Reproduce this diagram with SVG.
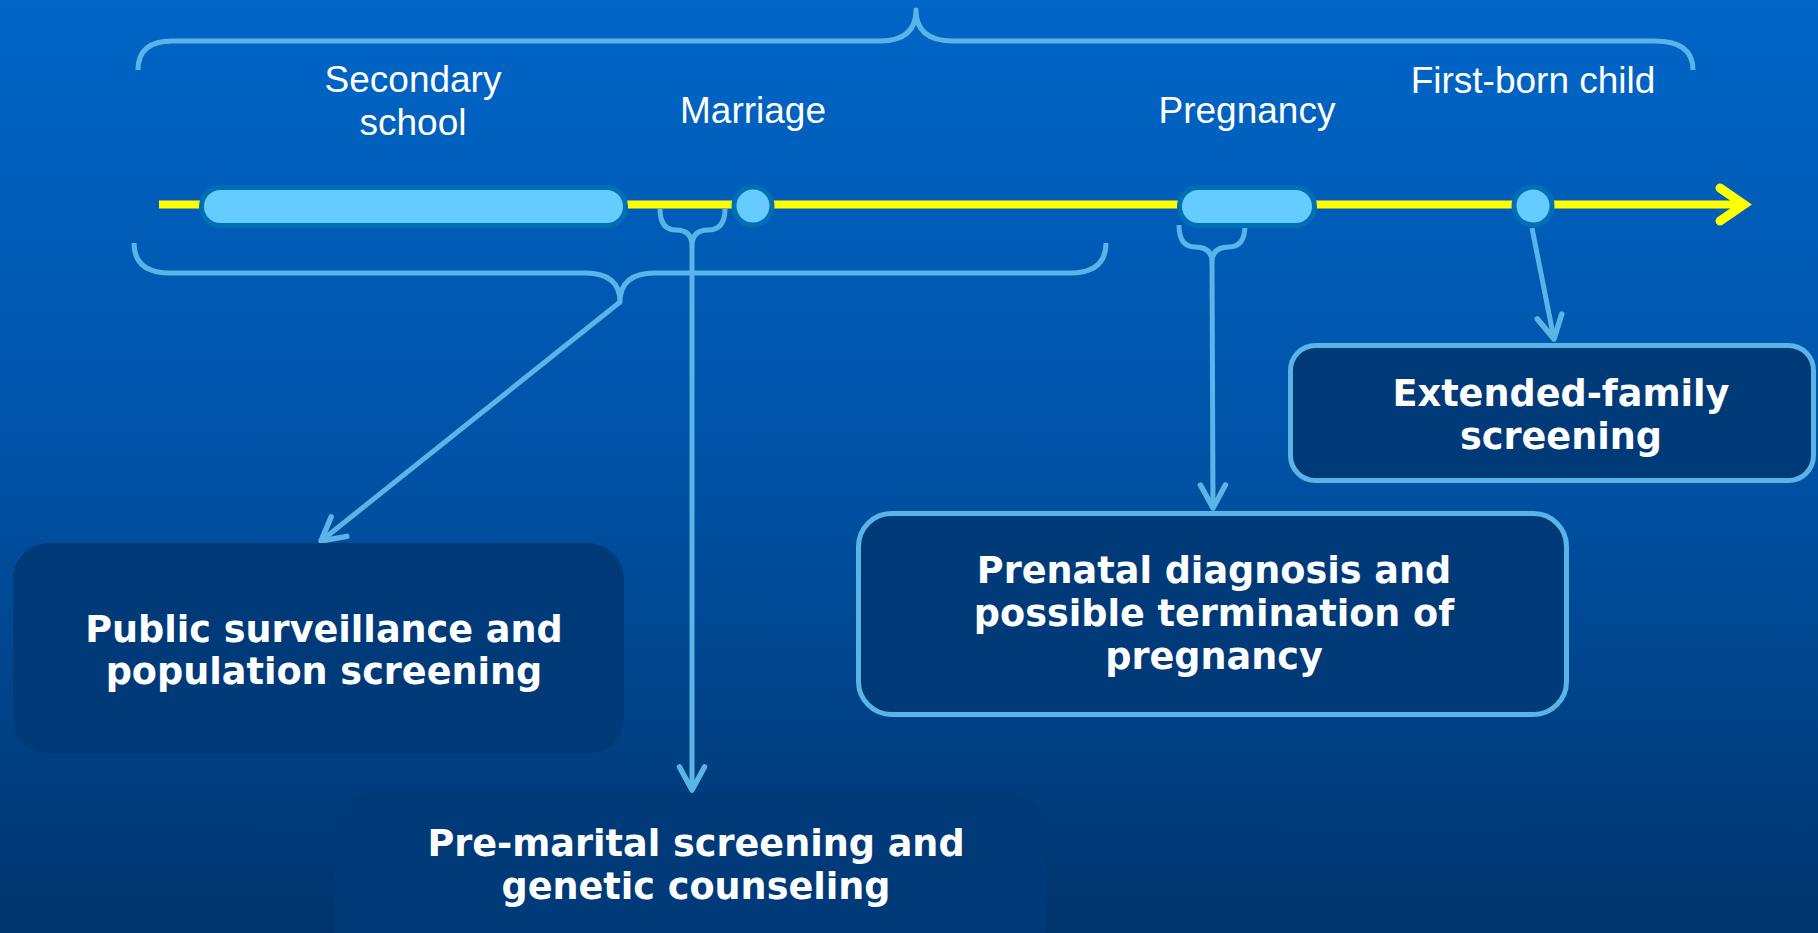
<svg xmlns="http://www.w3.org/2000/svg" width="1818" height="933" viewBox="0 0 1818 933">
<defs>
<linearGradient id="bg" x1="0" y1="0" x2="0" y2="1">
<stop offset="0" stop-color="#0066C8"/>
<stop offset="0.5" stop-color="#0052A6"/>
<stop offset="1" stop-color="#00346C"/>
</linearGradient>
<marker id="arr" viewBox="-30 -20 40 40" markerWidth="40" markerHeight="40" refX="0" refY="0" orient="auto" markerUnits="userSpaceOnUse">
<path d="M-23,-12.5 L0,0 L-23,12.5" fill="none" stroke="#5AB4E6" stroke-width="5.5" stroke-linecap="round" stroke-linejoin="round"/>
</marker>
<style>
.brace{fill:none;stroke:#5AB4E6;stroke-width:5;stroke-linecap:butt;stroke-linejoin:round}
.conn{fill:none;stroke:#5AB4E6;stroke-width:5}
.bar{fill:#66CCFF;stroke:#0070B4;stroke-width:5}
.box{fill:#003A78}
.boxs{fill:#003A78;stroke:#5AB4E6;stroke-width:5}
.lbl{font-family:"Liberation Sans",Arial,sans-serif;font-size:37px;fill:#FFFFFF;text-anchor:middle}
.bt{font-family:"DejaVu Sans",Verdana,sans-serif;font-weight:bold;font-size:36.6px;fill:#FFFFFF;text-anchor:middle}
</style>
</defs>
<rect x="0" y="0" width="1818" height="933" fill="url(#bg)"/>

<g id="top-brace">
<path class="brace" d="M138,70 Q138,41 172,41 L880,41 Q916,41 916,10 Q916,41 953,41 L1655,41 Q1693,41 1693,70"/>
</g>

<g id="timeline">
<line x1="159" y1="204.5" x2="1744" y2="204.5" stroke="#FFFF00" stroke-width="8"/>
<path d="M1720,188 L1744,204.5 L1720,221" fill="none" stroke="#FFFF00" stroke-width="9" stroke-linecap="round" stroke-linejoin="miter"/>
</g>

<g id="connectors">
<path class="brace" d="M134,243 Q134,273 170,273 L585,273 Q620,273 620,302 Q620,273 655,273 L1070,273 Q1106,273 1106,243"/>
<path class="brace" d="M660,209 Q660,230 676,230 Q692,230 692,246 Q692,230 708,230 Q725,230 725,209"/>
<path class="brace" d="M1179,225 Q1179,247 1195,247 Q1212,247 1212,262 Q1212,247 1229,247 Q1245,247 1245,225"/>
<line class="conn" x1="620" y1="302" x2="321" y2="541" marker-end="url(#arr)"/>
<line class="conn" x1="692" y1="246" x2="692" y2="790" marker-end="url(#arr)"/>
<line class="conn" x1="1212" y1="262" x2="1213" y2="508" marker-end="url(#arr)"/>
<line class="conn" x1="1532" y1="228" x2="1554" y2="339" marker-end="url(#arr)"/>
</g>

<g id="secondary-school">
<rect class="bar" x="201.5" y="187.5" width="424" height="38" rx="19"/>
<text class="lbl" x="413" y="92">Secondary</text>
<text class="lbl" x="413" y="135">school</text>
</g>

<g id="marriage">
<circle class="bar" cx="753" cy="206" r="19"/>
<text class="lbl" x="753" y="123">Marriage</text>
</g>

<g id="pregnancy">
<rect class="bar" x="1179.5" y="187.5" width="135" height="38" rx="19"/>
<text class="lbl" x="1247" y="123">Pregnancy</text>
</g>

<g id="first-born">
<circle class="bar" cx="1533" cy="206" r="19"/>
<text class="lbl" x="1533" y="93">First-born child</text>
</g>

<g id="public-surveillance">
<rect class="box" x="13" y="543" width="611" height="211" rx="36"/>
<text class="bt" x="324" y="642">Public surveillance and</text>
<text class="bt" x="324" y="684">population screening</text>
</g>

<g id="pre-marital">
<rect class="box" x="335" y="793" width="711" height="170" rx="36"/>
<text class="bt" x="696" y="856">Pre-marital screening and</text>
<text class="bt" x="696" y="899">genetic counseling</text>
</g>

<g id="prenatal">
<rect class="boxs" x="858.5" y="513.5" width="708" height="201" rx="33"/>
<text class="bt" x="1214" y="583">Prenatal diagnosis and</text>
<text class="bt" x="1214" y="626">possible termination of</text>
<text class="bt" x="1214" y="669">pregnancy</text>
</g>

<g id="extended-family">
<rect class="boxs" x="1290.5" y="345.5" width="523" height="135" rx="25"/>
<text class="bt" x="1561" y="406">Extended-family</text>
<text class="bt" x="1561" y="449">screening</text>
</g>
</svg>
